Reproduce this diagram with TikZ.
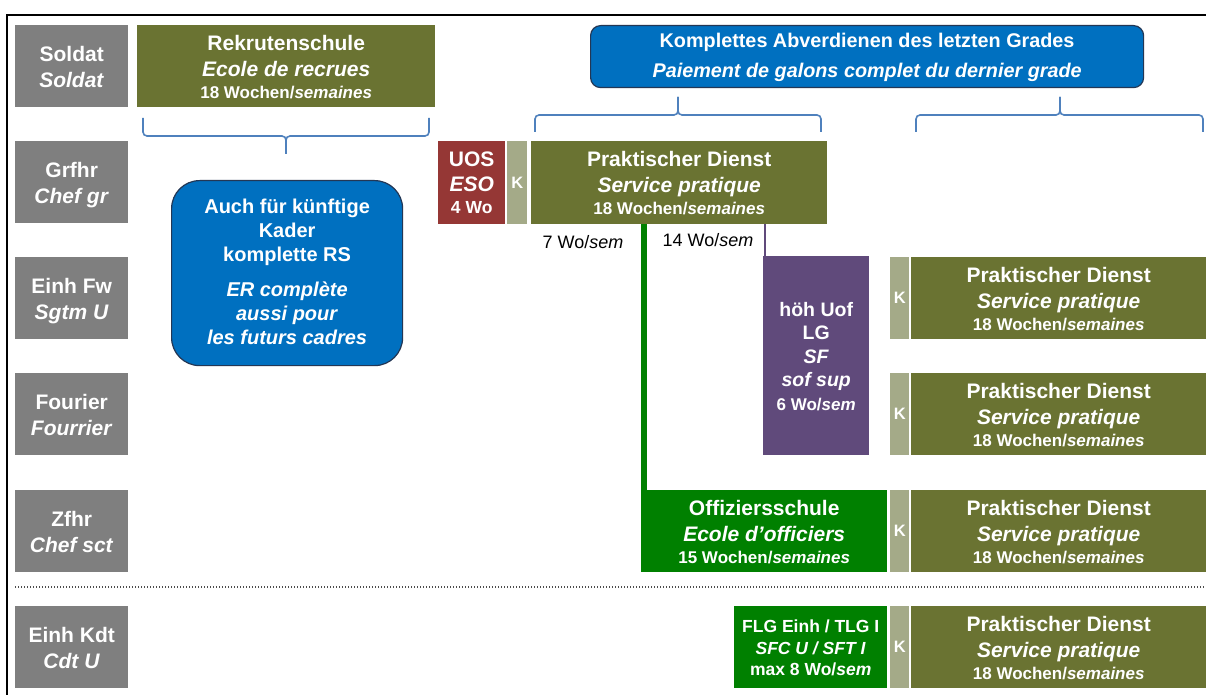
\documentclass[tikz,border=0pt]{standalone}
\usepackage{fontspec}
\setmainfont{Liberation Sans}
\newcommand\myfs[2]{\fontsize{#1}{#2}\selectfont}
\definecolor{cgray}{RGB}{127,127,127}
\definecolor{colive}{RGB}{106,115,50}
\definecolor{ck}{RGB}{164,170,136}
\definecolor{cred}{RGB}{149,55,53}
\definecolor{cblue}{RGB}{0,112,192}
\definecolor{cblueline}{RGB}{35,55,85}
\definecolor{cpurple}{RGB}{96,74,123}
\definecolor{cgreen}{RGB}{0,128,0}
\definecolor{cbrace}{RGB}{79,129,189}
\begin{document}
\begin{tikzpicture}[x=1pt,y=-1pt,
 box/.style={anchor=north west, inner sep=0pt, text=white, align=center, text depth=0pt},
 lbl/.style={box, fill=cgray, minimum width=113pt, minimum height=82pt, text height=42pt, font=\myfs{21}{26}\bfseries},
 olive/.style={box, fill=colive, minimum height=82pt, text height=64pt, font=\myfs{21}{26}\bfseries},
 pdbox/.style={olive, minimum width=295pt},
 kbox/.style={anchor=north west, inner sep=0pt, fill=ck, text=white, minimum width=19pt, minimum height=82pt, font=\myfs{16.5}{18}\bfseries},
 brace/.style={draw=cbrace, line width=1.6pt, rounded corners=4pt},
 wo/.style={anchor=base, font=\myfs{18}{20}, text=black, inner sep=0pt},
 bluebox/.style={box, fill=cblue, draw=cblueline, line width=1.2pt},
]
\useasboundingbox (0,0) rectangle (1206,695);
\fill[white] (0,0) rectangle (1206,695);
\draw[line width=1.5pt] (7,695) -- (7,15) -- (1206,15);

% rank labels
\node[lbl] (l1) at (15,25) {Soldat\\\textit{Soldat}};
\node[lbl] (l2) at (15,141) {Grfhr\\\textit{Chef gr}};
\node[lbl] (l3) at (15,257) {Einh Fw\\\textit{Sgtm U}};
\node[lbl] (l4) at (15,373) {Fourier\\\textit{Fourrier}};
\node[lbl] (l5) at (15,490) {Zfhr\\\textit{Chef sct}};
\node[lbl] (l6) at (15,606) {Einh Kdt\\\textit{Cdt U}};

% Rekrutenschule
\node[olive, minimum width=298pt] (rs) at (137,25) {Rekrutenschule\\\textit{Ecole de recrues}\\[-4pt]{\myfs{17}{20}18 Wochen/\textit{semaines}}};
\draw[brace] (143,118) -- (143,136) -- (286,136) -- (286,154);
\draw[brace] (429,118) -- (429,136) -- (286,136) -- (286,154);

\node[bluebox, rounded corners=28pt, minimum width=231pt, minimum height=185pt, text height=143pt, font=\myfs{20}{24}\bfseries] (aux) at (171,180) {Auch für künftige\\Kader\\komplette RS\\[11pt]\textit{ER complète}\\\textit{aussi pour}\\\textit{les futurs cadres}};

% top blue box
\node[bluebox, rounded corners=10pt, minimum width=553pt, minimum height=62pt, text height=42pt, font=\myfs{19.8}{30}\bfseries] (kab) at (590,25) {Komplettes Abverdienen des letzten Grades\\\textit{Paiement de galons complet du dernier grade}};
\draw[brace] (535,132) -- (535,115) -- (678,115) -- (678,97);
\draw[brace] (821,132) -- (821,115) -- (678,115) -- (678,97);
\draw[brace] (916,132) -- (916,115) -- (1060,115) -- (1060,97);
\draw[brace] (1203,132) -- (1203,115) -- (1060,115) -- (1060,97);

% Grfhr row
\node[box, fill=cred, minimum width=67pt, minimum height=83pt, text height=61pt, font=\myfs{21}{25}\bfseries] (uos) at (438,141) {UOS\\\textit{ESO}\\[-3pt]{\myfs{17.5}{20}4 Wo}};
\node[kbox, minimum width=20pt, minimum height=83pt] (k0) at (507,141) {K};
\node[olive, minimum width=296pt, minimum height=83pt] (pd0) at (531,141) {Praktischer Dienst\\\textit{Service pratique}\\[-4pt]{\myfs{17}{20}18 Wochen/\textit{semaines}}};

\node[wo] (w7) at (583,248) {7 Wo/\textit{sem}};
\node[wo] (w14) at (708,246) {14 Wo/\textit{sem}};

% purple
\node[box, fill=cpurple, minimum width=106pt, minimum height=199pt, text height=109pt, font=\myfs{19.5}{23.5}\bfseries] (hu) at (763,256) {höh Uof\\LG\\\textit{SF}\\\textit{sof sup}\\{\myfs{17}{20}6 Wo/\textit{sem}}};

% right column
\node[kbox] (k1) at (890,257) {K};
\node[pdbox] (pd1) at (911,257) {Praktischer Dienst\\\textit{Service pratique}\\[-4pt]{\myfs{17}{20}18 Wochen/\textit{semaines}}};
\node[kbox] (k2) at (890,373) {K};
\node[pdbox] (pd2) at (911,373) {Praktischer Dienst\\\textit{Service pratique}\\[-4pt]{\myfs{17}{20}18 Wochen/\textit{semaines}}};
\node[kbox] (k3) at (890,490) {K};
\node[pdbox] (pd3) at (911,490) {Praktischer Dienst\\\textit{Service pratique}\\[-4pt]{\myfs{17}{20}18 Wochen/\textit{semaines}}};
\node[kbox] (k4) at (890,606) {K};
\node[pdbox] (pd4) at (911,606) {Praktischer Dienst\\\textit{Service pratique}\\[-4pt]{\myfs{17}{20}18 Wochen/\textit{semaines}}};

% officers school
\node[box, fill=cgreen, minimum width=246pt, minimum height=82pt, text height=64pt, font=\myfs{21}{26}\bfseries] (os) at (641,490) {Offiziersschule\\\textit{Ecole d’officiers}\\[-4pt]{\myfs{17}{20}15 Wochen/\textit{semaines}}};
\node[box, fill=cgreen, minimum width=153pt, minimum height=82pt, text height=56pt, font=\myfs{17.5}{22}\bfseries] (flg) at (734,606) {FLG Einh / TLG I\\\textit{SFC U / SFT I}\\[-1pt]max 8 Wo/\textit{sem}};

% connectors
\coordinate (gx) at (644,0);
\draw[cgreen, line width=6pt] (pd0.south -| gx) -- (os.north -| gx);
\coordinate (px) at (765,0);
\draw[cpurple, line width=2.5pt] (pd0.south -| px) -- (hu.north -| px);

% separator
\draw[black!70, line width=1.2pt, dash pattern=on 1.2pt off 1.8pt] (15,587) -- (1206,587);
\end{tikzpicture}
\end{document}
